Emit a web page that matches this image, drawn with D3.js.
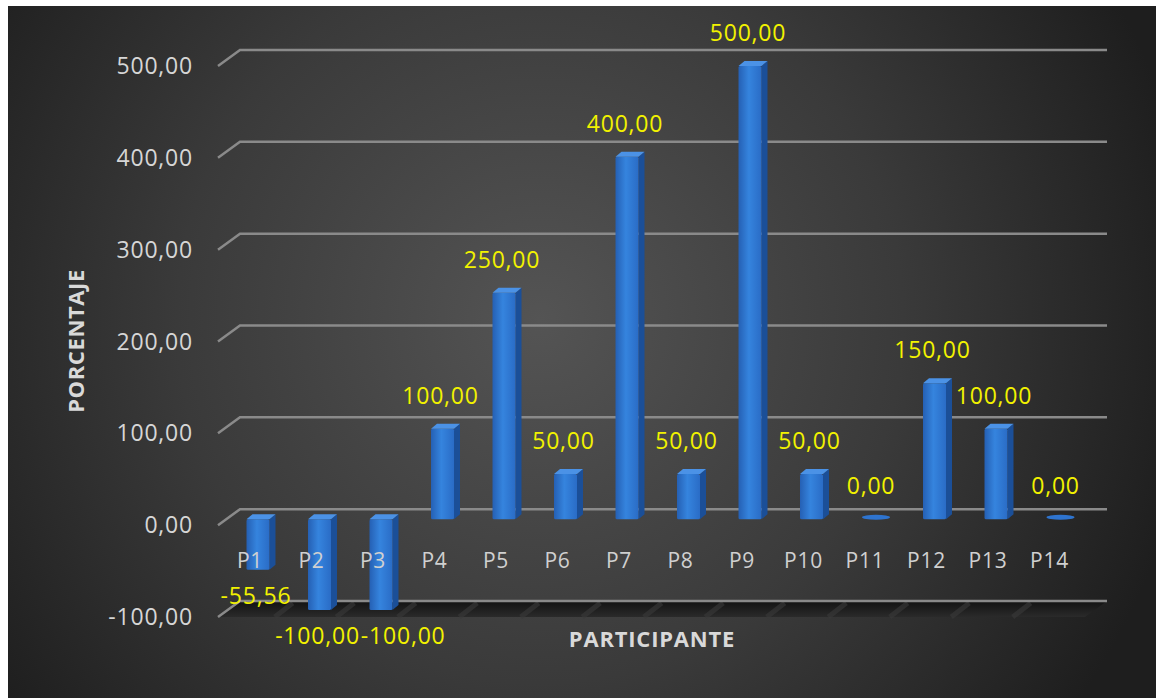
<!DOCTYPE html>
<html><head><meta charset="utf-8">
<script src="https://cdn.jsdelivr.net/npm/d3@7"></script>
<style>html,body{margin:0;padding:0;background:#fff;overflow:hidden}</style>
</head><body>
<script>
const categories = ["P1","P2","P3","P4","P5","P6","P7","P8","P9","P10","P11","P12","P13","P14"];
const values = [-55.56,-100,-100,100,250,50,400,50,500,50,0,150,100,0];
const yTicks = [-100,0,100,200,300,400,500];
const yTitle = "PORCENTAJE";
const xTitle = "PARTICIPANTE";

const W = 1156, H = 698;
const fmt = v => d3.format(".2f")(v).replace(".", ",").replace("\u2212", "-");
const FONT = "'Open Sans', sans-serif";

const svg = d3.select("body").append("svg").attr("width", W).attr("height", H);
const defs = svg.append("defs");

const bg = defs.append("radialGradient").attr("id","bg").attr("gradientUnits","userSpaceOnUse")
  .attr("cx",540).attr("cy",320).attr("r",660);
bg.append("stop").attr("offset","0").attr("stop-color","#545454");
bg.append("stop").attr("offset","0.55").attr("stop-color","#3a3a3a");
bg.append("stop").attr("offset","1").attr("stop-color","#1e1e1e");

const front = defs.append("linearGradient").attr("id","front").attr("x1","0").attr("x2","1").attr("y1","0").attr("y2","0");
front.append("stop").attr("offset","0").attr("stop-color","#2560b4");
front.append("stop").attr("offset","0.45").attr("stop-color","#3584de");
front.append("stop").attr("offset","1").attr("stop-color","#2a6cc6");

const floorG = defs.append("linearGradient").attr("id","floor").attr("x1","0").attr("x2","0").attr("y1","0").attr("y2","1");
floorG.append("stop").attr("offset","0").attr("stop-color","#121212");
floorG.append("stop").attr("offset","1").attr("stop-color","#2a2a2a");

svg.append("rect").attr("x",8).attr("y",6).attr("width",W-8).attr("height",H-6).attr("fill","url(#bg)");

const backX0 = 240, backX1 = 1107, dx = -22, dy = 16;
const yBack = d3.scaleLinear().domain([-100,500]).range([601,50]);
const yBar = d3.scaleLinear().domain([-100,500]).range([610,66]);
const x = d3.scaleBand().domain(categories).range([219.25,1080.25]).padding(0);

// floor
const fy = yBack(-100);
svg.append("path")
  .attr("d", `M${backX0},${fy} L${backX1},${fy} L${backX1+dx},${fy+dy} L${backX0+dx},${fy+dy} Z`)
  .attr("fill","url(#floor)");
svg.selectAll("line.sep").data(categories.slice(1)).join("line").attr("class","sep")
  .attr("x1", d => x(d) + 12).attr("y1", fy + 2)
  .attr("x2", d => x(d) - 6).attr("y2", fy + dy)
  .attr("stroke","#3a3a3a").attr("stroke-width",5).attr("opacity",0.6);

// gridlines
svg.append("g").selectAll("path").data(yTicks).join("path")
  .attr("d", d => `M${backX0+dx},${yBack(d)+dy} L${backX0},${yBack(d)} L${backX1},${yBack(d)}`)
  .attr("fill","none").attr("stroke","#8a8a8a").attr("stroke-width",2.5);

// y tick labels
svg.append("g").selectAll("text").data(yTicks).join("text")
  .attr("x", 193).attr("y", d => yBack(d) + dy + 2)
  .attr("text-anchor","end").attr("dominant-baseline","middle")
  .attr("font-family",FONT).attr("font-size",23).attr("letter-spacing",0.8)
  .attr("fill","#d6d6d6").text(fmt);

// bars
const bw = 23, sw = 6, th = 5;
const bars = svg.append("g").selectAll("g").data(categories.map((c,i)=>({c, v: values[i]}))).join("g");
bars.each(function(d){
  const g = d3.select(this);
  const cx = x(d.c) + x.bandwidth()/2 + 8;
  const xl = cx - bw/2, xr = cx + bw/2;
  const yt = yBar(Math.max(d.v,0)), yb = yBar(Math.min(d.v,0));
  if (d.v === 0) {
    g.append("ellipse").attr("cx", cx+3).attr("cy", yt-2).attr("rx", 14).attr("ry", 2.5).attr("fill","#2e74cf");
    return;
  }
  g.append("path").attr("d", `M${xr},${yt} L${xr+sw},${yt-th} L${xr+sw},${yb-th} L${xr},${yb} Z`).attr("fill","#1b4f98");
  g.append("rect").attr("x", xl).attr("y", yt).attr("width", bw).attr("height", yb-yt).attr("fill","url(#front)").attr("rx",1.5);
  g.append("path").attr("d", `M${xl},${yt} L${xl+sw},${yt-th} L${xr+sw},${yt-th} L${xr},${yt} Z`).attr("fill","#4b92e6");
});

// category labels (drawn over bars)
svg.append("g").selectAll("text").data(categories).join("text")
  .attr("x", d => x(d) + x.bandwidth()/2).attr("y", 562)
  .attr("text-anchor","middle").attr("dominant-baseline","middle")
  .attr("font-family",FONT).attr("font-size",21).attr("letter-spacing",0.8)
  .attr("fill","#d0d0d0").text(d => d);

// data labels with simple overlap avoidance
const labelData = categories.map((c,i)=>({c, v: values[i], cx: x(c) + x.bandwidth()/2 + 6}));
const lbl = svg.append("g");
let prevRight = -Infinity, prevY = null;
labelData.forEach(d => {
  const y = d.v < 0 ? yBar(d.v) + 28 : yBar(d.v) - 31;
  const t = lbl.append("text").attr("x", d.cx).attr("y", y)
    .attr("text-anchor","middle").attr("dominant-baseline","middle")
    .attr("font-family",FONT).attr("font-size",23).attr("letter-spacing",0.8)
    .attr("fill","#f2f200").text(fmt(d.v));
  const bb = t.node().getBBox();
  if (prevY !== null && Math.abs(prevY - y) < 20 && bb.x < prevRight + 1) {
    t.attr("x", d.cx + (prevRight + 1 - bb.x));
  }
  const nb = t.node().getBBox();
  prevRight = nb.x + nb.width; prevY = y;
});

// axis titles
svg.append("text").attr("transform","translate(78,341) rotate(-90)")
  .attr("text-anchor","middle").attr("dominant-baseline","middle")
  .attr("font-family",FONT).attr("font-weight","bold").attr("font-size",22).attr("letter-spacing",0.6)
  .attr("fill","#d9d9d9").text(yTitle);
svg.append("text").attr("x",652).attr("y",641)
  .attr("text-anchor","middle").attr("dominant-baseline","middle")
  .attr("font-family",FONT).attr("font-weight","bold").attr("font-size",22).attr("letter-spacing",0.8)
  .attr("fill","#d9d9d9").text(xTitle);
</script>
</body></html>
